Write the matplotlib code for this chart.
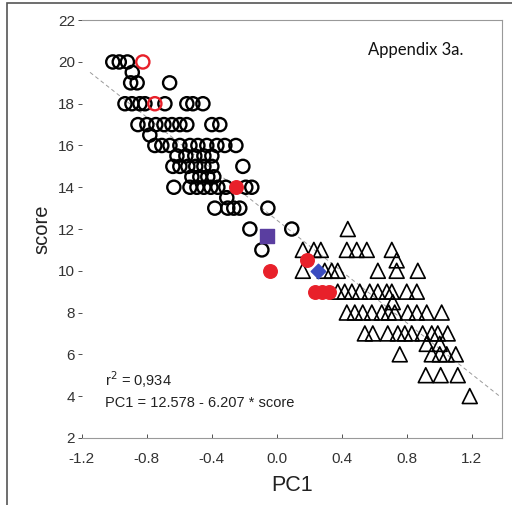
import matplotlib
matplotlib.use("Agg")
import matplotlib.pyplot as plt
import matplotlib.patches as mpatches

plt.rcParams['font.family'] = ['Liberation Sans', 'DejaVu Sans']

# open black circles (PC1, score)
circ_x = [-1.01, -0.97, -0.92,
          -0.89,
          -0.90, -0.86, -0.66,
          -0.935, -0.892, -0.843, -0.812, -0.689, -0.554, -0.517, -0.455,
          -0.855, -0.80, -0.745, -0.695, -0.646, -0.597, -0.554, -0.40, -0.351,
          -0.782,
          -0.751, -0.708, -0.658, -0.597, -0.535, -0.486, -0.431, -0.369, -0.32, -0.252,
          -0.615, -0.56, -0.505, -0.449, -0.40,
          -0.64, -0.597, -0.548, -0.499, -0.449, -0.40, -0.209,
          -0.523, -0.474, -0.425, -0.388,
          -0.634, -0.535, -0.492, -0.449, -0.406, -0.363, -0.314, -0.191, -0.154,
          -0.308,
          -0.382, -0.302, -0.265, -0.228, -0.055,
          -0.166, 0.092,
          -0.092]
circ_y = [20, 20, 20,
          19.5,
          19, 19, 19,
          18, 18, 18, 18, 18, 18, 18, 18,
          17, 17, 17, 17, 17, 17, 17, 17, 17,
          16.5,
          16, 16, 16, 16, 16, 16, 16, 16, 16, 16,
          15.5, 15.5, 15.5, 15.5, 15.5,
          15, 15, 15, 15, 15, 15, 15,
          14.5, 14.5, 14.5, 14.5,
          14, 14, 14, 14, 14, 14, 14, 14, 14,
          13.5,
          13, 13, 13, 13, 13,
          12, 12,
          11]

# open black triangles
tri_x = [0.437,
         0.16, 0.228, 0.271, 0.431, 0.492, 0.554, 0.708,
         0.738,
         0.16, 0.295, 0.338, 0.375, 0.622, 0.738, 0.868,
         0.375, 0.418, 0.462, 0.511, 0.572, 0.622, 0.677, 0.708, 0.80, 0.862,
         0.714,
         0.431, 0.48, 0.529, 0.585, 0.646, 0.689, 0.726, 0.806, 0.862, 0.923, 1.015,
         0.542, 0.591, 0.683, 0.745, 0.788, 0.831, 0.898, 0.954, 0.991, 1.052,
         0.923, 1.003,
         0.757, 0.954, 1.003, 1.046, 1.102,
         0.917, 1.009, 1.114,
         1.188]
tri_y = [12,
         11, 11, 11, 11, 11, 11, 11,
         10.5,
         10, 10, 10, 10, 10, 10, 10,
         9, 9, 9, 9, 9, 9, 9, 9, 9, 9,
         8.5,
         8, 8, 8, 8, 8, 8, 8, 8, 8, 8, 8,
         7, 7, 7, 7, 7, 7, 7, 7, 7, 7,
         6.5, 6.5,
         6, 6, 6, 6, 6,
         5, 5, 5,
         4]

# red open circles
red_open_x = [-0.825, -0.751]
red_open_y = [20, 18]

# red filled circles
red_x = [-0.252, -0.043, 0.185, 0.234, 0.277, 0.32]
red_y = [14, 10, 10.5, 9, 9, 9]

# purple square, blue diamond
sq_x, sq_y = [-0.062], [11.65]
dia_x, dia_y = [0.252], [10]

# regression line (as drawn)
fit_a, fit_b = 12.43, -6.15
fit_range = [-1.15, 1.38]

fig = plt.figure(figsize=(5.12, 5.05), dpi=100)
ax = fig.add_axes([0.160, 0.133, 0.820, 0.827])

ax.plot(fit_range, [fit_a + fit_b * v for v in fit_range], ls=(0, (4, 3)),
        color='#9a9a9a', lw=0.7, zorder=1)

ax.scatter(circ_x, circ_y, s=90, facecolors='none', edgecolors='black',
           linewidths=1.7, zorder=2)
ax.scatter(tri_x, tri_y, marker='^', s=115, facecolors='none', edgecolors='black',
           linewidths=1.2, zorder=2)
ax.scatter(red_open_x, red_open_y, s=90, facecolors='none', edgecolors='#e8202a',
           linewidths=1.7, zorder=3)
ax.scatter(red_x, red_y, s=95, color='#e8202a', zorder=3)
ax.scatter(sq_x, sq_y, marker='s', s=90, color='#5a3ea0', zorder=3)
ax.scatter(dia_x, dia_y, marker='D', s=55, color='#3b4cc0', zorder=3)

ax.set_xlim(-1.2, 1.385)
ax.set_ylim(2, 22)
ax.set_xticks([-1.2, -0.8, -0.4, 0.0, 0.4, 0.8, 1.2])
ax.set_xticklabels(['-1.2', '-0.8', '-0.4', '0.0', '0.4', '0.8', '1.2'])
ax.set_yticks(range(2, 23, 2))
ax.tick_params(labelsize=11, colors='#333333', length=3, width=0.6)
ax.tick_params(axis='x', direction='in', pad=10)
ax.tick_params(axis='y', direction='out', pad=2)

for side in ['top', 'right', 'bottom']:
    ax.spines[side].set_color('#999999')
    ax.spines[side].set_linewidth(0.8)
ax.spines['left'].set_visible(False)

ax.set_xlabel('PC1', fontsize=15.5, color='#222222', labelpad=7)
ax.set_ylabel('score', fontsize=14.5, color='#222222', labelpad=5)

ax.text(0.055, 0.123, 'r$^2$ = 0,934', transform=ax.transAxes, fontsize=10.5,
        color='#222222')
ax.text(0.055, 0.075, 'PC1 = 12.578 - 6.207 * score', transform=ax.transAxes,
        fontsize=10.5, color='#222222')

fig.text(0.812, 0.90, 'Appendix 3a.', fontsize=12, family=['Lato', 'DejaVu Sans'],
         ha='center', va='center', color='#111111')

# outer frame
fig.patches.append(mpatches.Rectangle((7 / 512, -0.1), 1.2, 1.1 - 3 / 505,
                                      transform=fig.transFigure, fill=False,
                                      edgecolor='#555555', lw=1.2))

fig.savefig('out.png', dpi=100)
